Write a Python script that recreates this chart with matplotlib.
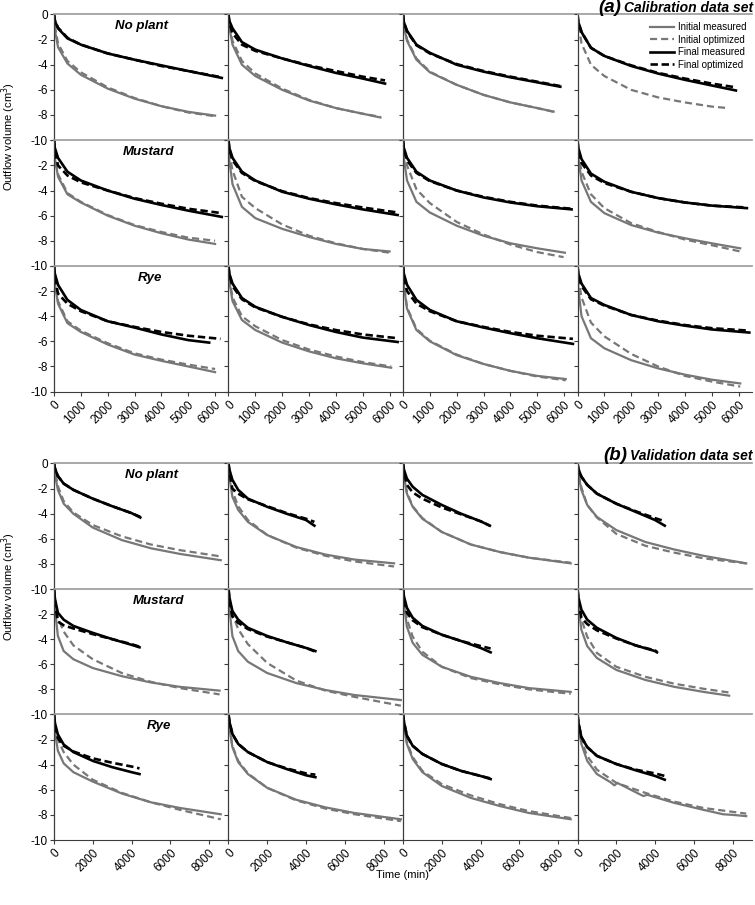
import numpy as np
import matplotlib
matplotlib.use('Agg')
import matplotlib.pyplot as plt

plt.rcParams['font.family'] = ['Liberation Sans', 'DejaVu Sans']
plt.rcParams['axes.unicode_minus'] = False

ROW_NAMES = ['No plant', 'Mustard', 'Rye']

# time grids (min); the last value of every curve sits at its own end time
T_CAL = [0, 30, 150, 500, 1000, 2000, 3000, 4000, 5000]
T_VAL_FIN = [0, 50, 200, 500, 1000, 2000, 3000, 4000]
T_VAL_INI = [0, 50, 200, 500, 1000, 2000, 3500, 5000, 6500]

# ---- (a) calibration: 12 panels, row by row ----
cal_fm = [
    [0, -0.5, -1.1, -1.9, -2.4, -3.1, -3.6, -4.05, -4.5, -5.05],
    [0, -0.5, -1.1, -2.2, -2.8, -3.5, -4.1, -4.65, -5.1, -5.5],
    [0, -0.6, -1.3, -2.4, -3.05, -4.0, -4.55, -5.0, -5.4, -5.75],
    [0, -0.6, -1.4, -2.65, -3.3, -4.1, -4.7, -5.2, -5.65, -6.05],
    [0, -0.6, -1.4, -2.5, -3.2, -4.0, -4.65, -5.15, -5.6, -6.1],
    [0, -0.6, -1.4, -2.5, -3.2, -4.1, -4.65, -5.1, -5.5, -5.95],
    [0, -0.6, -1.4, -2.5, -3.2, -4.0, -4.55, -4.95, -5.25, -5.5],
    [0, -0.6, -1.5, -2.65, -3.3, -4.1, -4.6, -4.95, -5.2, -5.4],
    [0, -0.6, -1.5, -2.7, -3.5, -4.4, -4.9, -5.45, -5.9, -6.1],
    [0, -0.6, -1.4, -2.55, -3.25, -4.05, -4.7, -5.25, -5.7, -6.05],
    [0, -0.6, -1.5, -2.7, -3.5, -4.4, -4.9, -5.35, -5.75, -6.2],
    [0, -0.6, -1.4, -2.55, -3.1, -3.9, -4.4, -4.75, -5.05, -5.3],
]
cal_fm_end = [6250, 5830, 5860, 5900, 6250, 6300, 6280, 6310, 5780, 6300, 6330, 6400]

cal_fo = [
    [0, -0.45, -1.05, -1.85, -2.4, -3.1, -3.6, -4.1, -4.5, -5.0],
    [0, -0.7, -1.5, -2.4, -2.9, -3.5, -4.05, -4.5, -4.95, -5.25],
    [0, -0.6, -1.35, -2.45, -3.1, -3.95, -4.5, -4.95, -5.35, -5.7],
    [0, -0.6, -1.4, -2.65, -3.3, -4.05, -4.65, -5.1, -5.5, -5.8],
    [0, -0.9, -2.0, -2.8, -3.35, -4.0, -4.6, -5.05, -5.45, -5.8],
    [0, -0.7, -1.6, -2.6, -3.25, -4.05, -4.6, -5.0, -5.35, -5.75],
    [0, -0.7, -1.6, -2.6, -3.25, -4.0, -4.5, -4.9, -5.2, -5.45],
    [0, -0.8, -1.8, -2.8, -3.4, -4.1, -4.6, -4.95, -5.2, -5.35],
    [0, -1.0, -2.2, -3.0, -3.6, -4.4, -4.85, -5.25, -5.55, -5.8],
    [0, -0.7, -1.6, -2.65, -3.3, -4.05, -4.65, -5.1, -5.45, -5.75],
    [0, -0.9, -2.0, -3.0, -3.6, -4.4, -4.85, -5.25, -5.55, -5.8],
    [0, -0.7, -1.6, -2.65, -3.15, -3.9, -4.35, -4.7, -4.95, -5.15],
]
cal_fo_end = [6250, 5830, 5860, 5900, 6250, 6300, 6280, 6310, 6200, 6300, 6330, 6400]

cal_im = [
    [0, -1.2, -2.6, -3.9, -4.8, -5.9, -6.7, -7.3, -7.75, -8.05],
    [0, -1.0, -2.4, -4.0, -4.9, -6.0, -6.85, -7.45, -7.9, -8.2],
    [0, -0.9, -2.1, -3.6, -4.6, -5.6, -6.4, -7.0, -7.45, -7.73],
    None,
    [0, -1.4, -2.9, -4.3, -4.95, -6.0, -6.8, -7.4, -7.9, -8.25],
    [0, -1.6, -3.5, -5.3, -6.2, -7.05, -7.7, -8.25, -8.65, -8.85],
    [0, -1.4, -3.2, -4.9, -5.75, -6.8, -7.6, -8.2, -8.6, -8.95],
    [0, -1.4, -3.2, -4.9, -5.8, -6.75, -7.35, -7.8, -8.2, -8.6],
    [0, -1.4, -3.0, -4.55, -5.25, -6.25, -7.05, -7.55, -8.0, -8.45],
    [0, -1.2, -2.8, -4.3, -5.1, -6.1, -6.8, -7.35, -7.75, -8.1],
    [0, -1.5, -3.4, -5.1, -6.0, -7.1, -7.8, -8.35, -8.75, -9.0],
    [0, -1.8, -4.0, -5.75, -6.55, -7.5, -8.15, -8.65, -9.05, -9.35],
]
cal_im_end = [6000, 5660, 5610, 5610, 6000, 6000, 6030, 6060, 6000, 6060, 6060, 6060]

cal_io = [
    [0, -0.9, -2.3, -3.7, -4.6, -5.8, -6.65, -7.3, -7.8, -8.1],
    [0, -0.8, -2.1, -3.7, -4.7, -5.9, -6.8, -7.45, -7.9, -8.15],
    [0, -0.8, -2.0, -3.5, -4.55, -5.6, -6.4, -7.0, -7.45, -7.75],
    [0, -0.8, -2.3, -4.0, -4.9, -6.0, -6.6, -7.0, -7.33, -7.45],
    [0, -1.2, -2.7, -4.2, -4.9, -5.95, -6.75, -7.3, -7.75, -8.0],
    [0, -1.0, -2.4, -4.5, -5.4, -6.7, -7.6, -8.2, -8.65, -8.95],
    [0, -0.8, -2.0, -3.9, -5.0, -6.5, -7.5, -8.3, -8.9, -9.3],
    [0, -1.0, -2.5, -4.3, -5.4, -6.6, -7.3, -7.9, -8.35, -8.85],
    [0, -1.2, -2.8, -4.4, -5.15, -6.15, -6.95, -7.45, -7.85, -8.2],
    [0, -1.0, -2.5, -4.0, -4.8, -5.9, -6.65, -7.2, -7.65, -8.0],
    [0, -1.4, -3.3, -5.0, -5.95, -7.05, -7.8, -8.35, -8.8, -9.1],
    [0, -1.0, -2.5, -4.5, -5.6, -7.0, -8.0, -8.75, -9.2, -9.6],
]
cal_io_end = [6000, 5660, 5610, 5610, 6000, 6000, 5980, 6060, 6000, 6060, 6060, 6060]

# ---- (b) validation ----
val_fm = [
    [0, -0.4, -1.0, -1.6, -2.1, -2.8, -3.4, -3.95, -4.3],
    [0, -0.5, -1.3, -2.1, -2.8, -3.45, -4.0, -4.5, -4.95],
    [0, -0.5, -1.2, -1.85, -2.5, -3.3, -4.0, -4.6, -4.95],
    [0, -0.45, -1.05, -1.7, -2.4, -3.2, -3.85, -4.5, -4.95],
    [0, -0.8, -1.9, -2.45, -2.95, -3.5, -4.0, -4.45, -4.65],
    [0, -0.7, -1.75, -2.45, -3.1, -3.75, -4.25, -4.7, -4.95],
    [0, -0.6, -1.5, -2.3, -2.95, -3.65, -4.15, -4.7, -5.05],
    [0, -0.7, -1.65, -2.45, -3.1, -3.9, -4.5, -4.95, -5.05],
    [0, -0.7, -1.6, -2.4, -3.0, -3.7, -4.2, -4.6, -4.75],
    [0, -0.6, -1.55, -2.35, -3.0, -3.8, -4.35, -4.85, -5.0],
    [0, -0.6, -1.7, -2.5, -3.15, -3.95, -4.5, -4.9, -5.15],
    [0, -0.7, -1.8, -2.6, -3.3, -3.95, -4.45, -4.9, -5.2],
]
val_fo = [
    [0, -0.4, -1.0, -1.6, -2.1, -2.8, -3.4, -3.95, -4.25],
    [0, -0.8, -2.0, -2.4, -2.85, -3.4, -3.95, -4.4, -4.65],
    [0, -0.7, -1.7, -2.3, -2.8, -3.5, -4.05, -4.6, -4.95],
    [0, -0.45, -1.05, -1.7, -2.4, -3.2, -3.8, -4.35, -4.6],
    [0, -1.2, -2.6, -2.9, -3.15, -3.6, -4.0, -4.4, -4.6],
    [0, -1.0, -2.2, -2.7, -3.2, -3.8, -4.25, -4.7, -5.0],
    [0, -0.8, -1.9, -2.5, -3.05, -3.65, -4.15, -4.55, -4.75],
    [0, -1.0, -2.3, -2.8, -3.3, -3.95, -4.5, -4.9, -5.0],
    [0, -0.9, -1.9, -2.5, -2.95, -3.5, -3.85, -4.15, -4.3],
    [0, -0.6, -1.55, -2.35, -3.0, -3.8, -4.3, -4.7, -4.8],
    [0, -0.6, -1.7, -2.5, -3.15, -3.95, -4.5, -4.9, -5.1],
    [0, -0.7, -1.8, -2.6, -3.3, -3.95, -4.4, -4.7, -4.9],
]
val_fin_end = [4450, 4430, 4480, 4500, 4410, 4480, 4520, 4100, 4410, 4480, 4520, 4500]

val_im = [
    [0, -0.9, -2.1, -3.2, -4.0, -5.1, -6.1, -6.75, -7.2, -7.7],
    [0, -1.1, -2.65, -3.7, -4.65, -5.7, -6.65, -7.25, -7.65, -7.95],
    [0, -1.0, -2.4, -3.45, -4.4, -5.45, -6.45, -7.05, -7.5, -7.95],
    [0, -0.9, -2.1, -3.3, -4.25, -5.3, -6.25, -6.85, -7.35, -7.95],
    [0, -1.6, -3.75, -4.95, -5.6, -6.3, -6.95, -7.45, -7.8, -8.1],
    [0, -1.6, -3.75, -4.95, -5.8, -6.7, -7.5, -8.05, -8.45, -8.85],
    [0, -1.2, -3.0, -4.3, -5.25, -6.2, -7.0, -7.5, -7.9, -8.2],
    [0, -1.4, -3.25, -4.55, -5.5, -6.45, -7.25, -7.8, -8.2, -8.5],
    [0, -1.4, -2.9, -3.9, -4.6, -5.35, -6.3, -7.0, -7.45, -7.95],
    [0, -1.1, -2.6, -3.8, -4.75, -5.85, -6.8, -7.4, -7.85, -8.35],
    [0, -1.0, -2.35, -3.55, -4.6, -5.7, -6.65, -7.3, -7.85, -8.35],
    None,  # irregular curve, given below
]
val_io = [
    [0, -0.6, -1.8, -3.0, -3.9, -4.9, -5.8, -6.45, -6.9, -7.4],
    [0, -0.9, -2.2, -3.4, -4.5, -5.7, -6.7, -7.35, -7.8, -8.2],
    [0, -0.9, -2.3, -3.4, -4.35, -5.45, -6.45, -7.05, -7.5, -7.9],
    [0, -0.8, -1.9, -3.3, -4.3, -5.6, -6.55, -7.1, -7.55, -7.95],
    [0, -0.9, -2.3, -3.4, -4.5, -5.6, -6.7, -7.4, -7.9, -8.4],
    [0, -0.8, -2.0, -3.2, -4.4, -5.9, -7.3, -8.1, -8.6, -9.3],
    [0, -0.9, -2.4, -3.8, -5.0, -6.2, -7.1, -7.6, -8.0, -8.35],
    [0, -1.0, -2.4, -3.8, -5.1, -6.2, -7.0, -7.55, -7.95, -8.25],
    [0, -0.8, -2.0, -3.0, -4.0, -5.2, -6.25, -7.0, -7.6, -8.35],
    [0, -1.0, -2.5, -3.7, -4.7, -5.85, -6.85, -7.5, -7.95, -8.5],
    [0, -0.9, -2.2, -3.4, -4.5, -5.55, -6.45, -7.15, -7.7, -8.25],
    [0, -0.9, -2.1, -3.3, -4.4, -5.45, -6.25, -6.95, -7.45, -7.9],
]
val_ini_end = [8600, 8540, 8650, 8700, 8540, 8890, 8650, 7820, 8600, 8890, 8650, 8700]

# Rye, 4th panel, initial measured (has two small steps)
val_im_rye4_t = [0, 50, 200, 500, 1000, 1700, 1900, 2050, 3200, 3400, 3600, 5000, 6500, 7500, 8000, 8700]
val_im_rye4_v = [0, -1.0, -2.35, -3.7, -4.75, -5.4, -5.65, -5.45, -6.35, -6.5, -6.4, -7.05, -7.6, -7.95, -8.0, -8.1]

W, H = 755, 905
GRAY = '#777777'
DARK = '#3c3c3c'
STY_IM = dict(color=GRAY, lw=1.6)
STY_IO = dict(color=GRAY, lw=1.6, ls=(0, (3.2, 1.8)))
STY_FM = dict(color='black', lw=1.9)
STY_FO = dict(color='black', lw=1.9, ls=(0, (2.8, 1.4)))


def draw(ax, grid, vals, tend, sty):
    if vals is None:
        return
    ax.plot(list(grid) + [tend], vals, **sty)


def block(tops, xmax, xticks, data):
    left, pw, ph = 54.0, 174.5, 125.6
    axes = []
    for r, top in enumerate(tops):
        for c in range(4):
            ax = fig.add_axes([(left + c * pw) / W, 1 - (top + ph) / H, pw / W, ph / H])
            data(ax, r * 4 + c)
            ax.set_xlim(0, xmax)
            ax.set_ylim(-10, 0)
            ax.spines['right'].set_visible(False)
            ax.spines['top'].set_color('#9a9a9a')
            ax.spines['top'].set_linewidth(1.2)
            ax.spines['left'].set_color(DARK)
            ax.spines['left'].set_linewidth(0.9)
            ax.spines['bottom'].set_visible(r == 2)
            ax.spines['bottom'].set_color(DARK)
            ax.set_yticks([-10, -8, -6, -4, -2, 0])
            ax.tick_params(axis='y', direction='out', length=3, width=0.8,
                           color=DARK, labelsize=8.5, pad=1.5)
            if c == 0:
                ax.set_yticklabels(['-10', '-8', '-6', '-4', '-2', '0' if r == 0 else ''])
            else:
                ax.tick_params(axis='y', labelleft=False)
            if r == 2:
                ax.set_xticks(xticks)
                ax.set_xticklabels([str(t) for t in xticks], rotation=45,
                                   ha='right', va='top', rotation_mode='anchor')
                ax.tick_params(axis='x', direction='out', length=3, width=0.8,
                               color=DARK, labelsize=8.5, pad=2)
            else:
                ax.tick_params(axis='x', bottom=False, labelbottom=False)
            ax.set_facecolor('none')
            axes.append(ax)
    return axes


def cal_data(ax, k):
    draw(ax, T_CAL, cal_im[k], cal_im_end[k], STY_IM)
    draw(ax, T_CAL, cal_io[k], cal_io_end[k], STY_IO)
    draw(ax, T_CAL, cal_fm[k], cal_fm_end[k], STY_FM)
    draw(ax, T_CAL, cal_fo[k], cal_fo_end[k], STY_FO)


def val_data(ax, k):
    if val_im[k] is None:
        ax.plot(val_im_rye4_t, val_im_rye4_v, **STY_IM)
    else:
        draw(ax, T_VAL_INI, val_im[k], val_ini_end[k], STY_IM)
    draw(ax, T_VAL_INI, val_io[k], val_ini_end[k], STY_IO)
    draw(ax, T_VAL_FIN, val_fm[k], val_fin_end[k], STY_FM)
    draw(ax, T_VAL_FIN, val_fo[k], val_fin_end[k], STY_FO)


fig = plt.figure(figsize=(W / 100, H / 100), dpi=100)

cal_axes = block([14.5, 140.3, 266.0], 6500, list(range(0, 7000, 1000)), cal_data)
val_axes = block([463.5, 588.9, 714.4], 9000, list(range(0, 9000, 2000)), val_data)

# legend in the top-right panel
h = [plt.Line2D([], [], **STY_IM), plt.Line2D([], [], **STY_IO),
     plt.Line2D([], [], **STY_FM), plt.Line2D([], [], **STY_FO)]
cal_axes[3].legend(h, ['Initial measured', 'Initial optimized', 'Final measured', 'Final optimized'],
                   loc='upper right', bbox_to_anchor=(1.0, 0.985), frameon=False,
                   fontsize=7, handlelength=2.4, handletextpad=0.4, labelspacing=0.25,
                   borderaxespad=0.2)

for axs, xs in ((cal_axes, [0.5, 0.54, 0.55]), (val_axes, [0.56, 0.6, 0.6])):
    for r in range(3):
        axs[r * 4].text(xs[r], 0.905, ROW_NAMES[r], transform=axs[r * 4].transAxes,
                        ha='center', va='center', fontsize=9.5, weight='heavy', style='italic')

# block titles: "(a)" / "(b)" sit just left of the set name
renderer = fig.canvas.get_renderer()
for ybase, tag, name in ((12, '(a)', 'Calibration data set'), (460, '(b)', 'Validation data set')):
    t = fig.text(753 / W, 1 - ybase / H, name, ha='right', va='baseline',
                 fontsize=10, weight='heavy', style='italic')
    x0 = t.get_window_extent(renderer).x0
    fig.text((x0 - 3) / W, 1 - ybase / H, tag, ha='right', va='baseline',
             fontsize=13.5, weight='heavy', style='italic')

fig.text(9 / W, 1 - 137 / H, 'Outflow volume (cm$^3$)', rotation=90, ha='center', va='center', fontsize=8)
fig.text(9 / W, 1 - 587 / H, 'Outflow volume (cm$^3$)', rotation=90, ha='center', va='center', fontsize=8)
fig.text(402 / W, 1 - 875 / H, 'Time (min)', ha='center', va='center', fontsize=8)

fig.savefig('out.png', dpi=100)
